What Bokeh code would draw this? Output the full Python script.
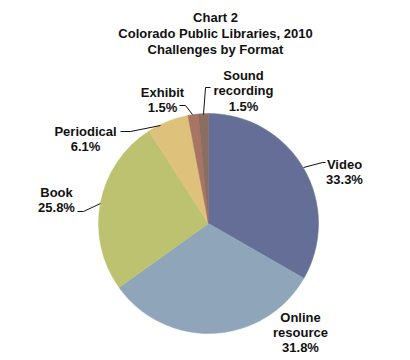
import numpy as np
from bokeh.plotting import figure
from bokeh.models import Range1d, ColumnDataSource
from bokeh.core.properties import value
from bokeh.embed import file_html
from bokeh.resources import INLINE

categories = ["Video", "Online resource", "Book", "Periodical", "Exhibit", "Sound recording"]
percents = [33.3, 31.8, 25.8, 6.1, 1.5, 1.5]
colors = ["#656E96", "#8FA5B9", "#BCC26F", "#DEC27B", "#A87464", "#8C6D62"]
title_lines = ["Chart 2", "Colorado Public Libraries, 2010", "Challenges by Format"]

W, H = 410, 360
# data coords: x = screen x, y = H - screen y
p = figure(width=W, height=H, output_backend="svg", toolbar_location=None,
           x_range=Range1d(0, W), y_range=Range1d(0, H), min_border=0)
p.axis.visible = False
p.grid.visible = False
p.outline_line_color = None
p.background_fill_color = "white"

def Y(sy):
    return H - sy

cx, cy, r = 208, Y(223), 110
pct = np.array(percents)
cum = np.concatenate([[0], np.cumsum(pct)]) / pct.sum()
start = np.pi / 2 - cum[1:] * 2 * np.pi
end = np.pi / 2 - cum[:-1] * 2 * np.pi
src = ColumnDataSource(dict(start=start, end=end, color=colors, cat=categories))
p.wedge(x=cx, y=cy, radius=r, start_angle="start", end_angle="end",
        fill_color="color", line_color="color", line_width=0.5, source=src)

font = value("Liberation Sans")
def txt(x, sy, s):
    p.text(x=[x], y=[Y(sy)], text=[s], text_font=font, text_font_size="13px",
           text_font_style="bold", text_color="#111111", text_align="center",
           text_baseline="alphabetic")

# title
for s, sy in zip(title_lines, [17, 33, 49]):
    txt(215, sy, s)

# labels
def lab(x, sys, lines):
    for s, sy in zip(lines, sys):
        txt(x, sy, s)

lab(344, [164, 179], ["Video", f"{percents[0]}%"])
lab(300, [317, 332, 347], ["Online", "resource", f"{percents[1]}%"])
lab(56, [192, 207], ["Book", f"{percents[2]}%"])
lab(85, [131, 146], ["Periodical", f"{percents[3]}%"])
lab(162, [92, 107], ["Exhibit", f"{percents[4]}%"])
lab(243, [75, 90, 106], ["Sound", "recording", f"{percents[5]}%"])

# leader lines (screen coords)
leaders = [
    [(303, 167), (322, 162), (325, 162)],
    [(77, 211), (83, 211), (100, 203)],
    [(120, 131), (130, 131), (160, 125)],
    [(179, 105), (185, 105), (192, 114)],
    [(203, 114), (205, 87), (210, 87)],
]
for pts in leaders:
    p.line([a for a, b in pts], [Y(b) for a, b in pts], line_color="#111111", line_width=1)

open("out.html", "w").write(file_html(p, INLINE))
